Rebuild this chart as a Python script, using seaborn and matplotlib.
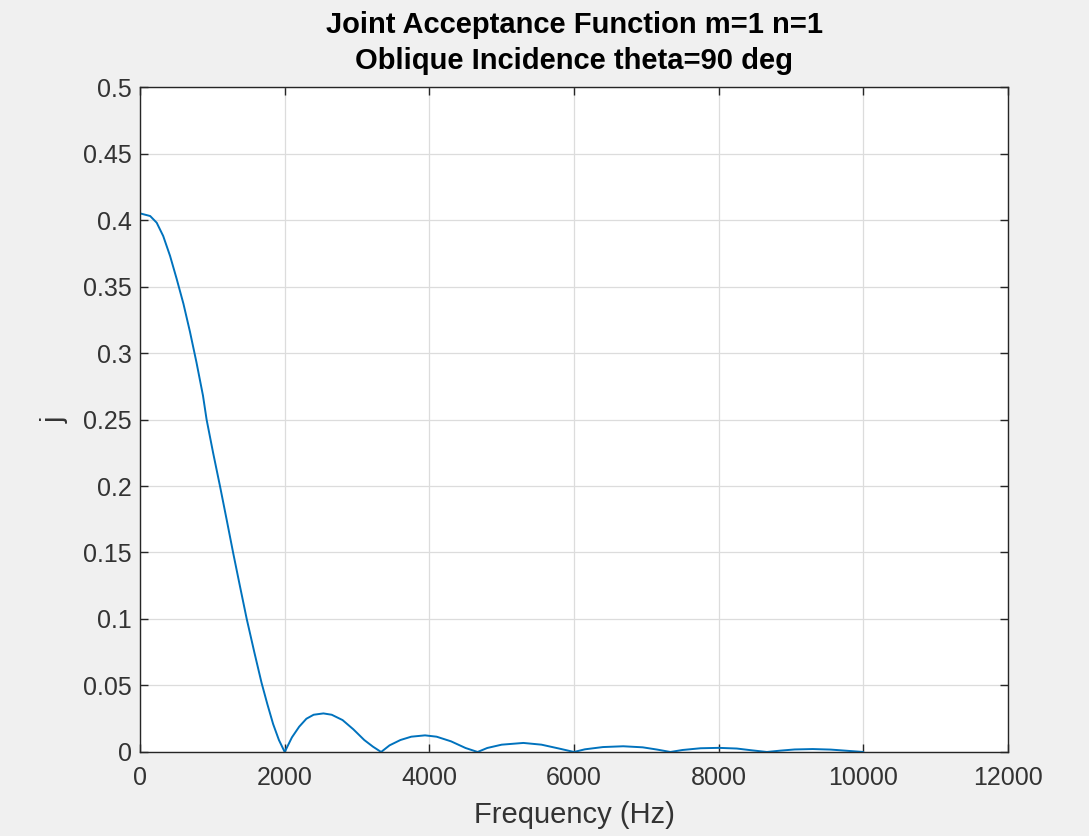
import numpy as np
import pandas as pd
import seaborn as sns
import matplotlib.pyplot as plt

# --- Data ---
freq_hz = [0, 140, 230, 320, 415, 505, 600, 690, 780, 870, 920, 1010, 1105, 1200,
           1290, 1380, 1475, 1580, 1680, 1760, 1840, 1920, 2000,
           2100, 2200, 2300, 2400, 2535, 2650, 2800, 2950, 3100, 3220, 3333,
           3450, 3600, 3750, 3940, 4100, 4300, 4500, 4667,
           4800, 5000, 5300, 5550, 5800, 6000,
           6150, 6400, 6680, 6950, 7150, 7333,
           7500, 7750, 8000, 8250, 8450, 8667,
           8850, 9050, 9300, 9550, 9800, 10000]
joint_acc = [0.405, 0.403, 0.398, 0.388, 0.373, 0.356, 0.337, 0.316, 0.293, 0.268, 0.250,
             0.225, 0.200, 0.174, 0.149, 0.125, 0.100, 0.075, 0.052, 0.036, 0.021, 0.009, 0.0,
             0.011, 0.019, 0.025, 0.028, 0.029, 0.028, 0.024, 0.017, 0.009, 0.004, 0.0,
             0.005, 0.009, 0.0115, 0.0125, 0.0115, 0.008, 0.003, 0.0,
             0.003, 0.0055, 0.0068, 0.0055, 0.0025, 0.0,
             0.002, 0.0037, 0.0043, 0.0035, 0.0018, 0.0,
             0.0015, 0.0028, 0.0031, 0.0026, 0.0013, 0.0,
             0.001, 0.0019, 0.0022, 0.0018, 0.0008, 0.0]

x_ticks = [0, 2000, 4000, 6000, 8000, 10000, 12000]
y_ticks = [0, 0.05, 0.1, 0.15, 0.2, 0.25, 0.3, 0.35, 0.4, 0.45, 0.5]
y_labels = ['0', '0.05', '0.1', '0.15', '0.2', '0.25', '0.3', '0.35', '0.4', '0.45', '0.5']

df = pd.DataFrame({'f': freq_hz, 'j': joint_acc})

# --- Style (MATLAB-like) ---
sns.set_style('white')
plt.rcParams['font.family'] = ['Liberation Sans', 'DejaVu Sans']

fig = plt.figure(figsize=(10.89, 8.36), dpi=100, facecolor='#f0f0f0')
ax = fig.add_axes([0.1286, 0.1005, 0.797, 0.7954])
ax.set_facecolor('white')

sns.lineplot(data=df, x='f', y='j', ax=ax, color='#0072BD', linewidth=1.4)

ax.set_xlim(0, 12000)
ax.set_ylim(0, 0.5)
ax.set_xticks(x_ticks)
ax.set_xticklabels([str(t) for t in x_ticks])
ax.set_yticks(y_ticks)
ax.set_yticklabels(y_labels)
ax.grid(True, color='#dcdcdc', linewidth=0.9)
ax.set_axisbelow(True)

for s in ax.spines.values():
    s.set_color('#262626')
    s.set_linewidth(1.0)

ax.tick_params(direction='in', length=6, width=1.0, color='#262626',
               labelsize=18, labelcolor='#333333', top=True, right=True,
               bottom=True, left=True)
ax.tick_params(axis='x', pad=10)
ax.tick_params(axis='y', pad=6)

ax.set_xlabel('Frequency (Hz)', fontsize=21, color='#333333', labelpad=8)
ax.set_ylabel('j', fontsize=21, color='#333333', labelpad=10)
ax.set_title('Joint Acceptance Function m=1 n=1\nOblique Incidence theta=90 deg',
             fontsize=21, fontweight='bold', color='black', pad=13, linespacing=1.35)

fig.savefig('out.png', dpi=100, facecolor=fig.get_facecolor())
